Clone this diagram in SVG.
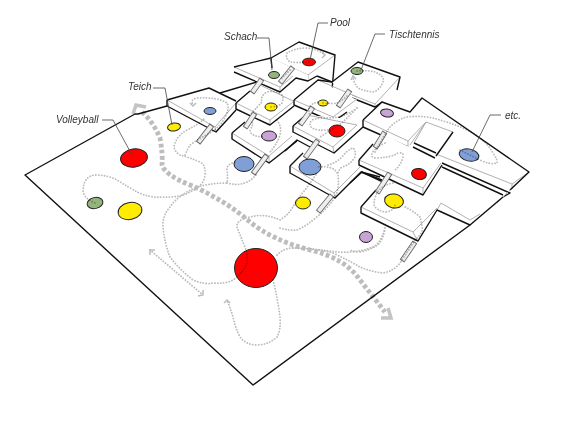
<svg xmlns="http://www.w3.org/2000/svg" width="568" height="426" viewBox="0 0 568 426">
<style>
.t{fill:#fff;stroke:none}
.b{fill:none;stroke:#111;stroke-width:1.4;stroke-linejoin:round}
.g{fill:none;stroke:#a8a8a8;stroke-width:.9}
.bo{stroke:#666;stroke-width:5.500;fill:none}
.bi{stroke:#eee;stroke-width:3.800;fill:none}
.n{stroke:#222;stroke-width:1}
.red{fill:#f00}.yel{fill:#ffec00}.blu{fill:#7f9fd6}.pur{fill:#c9a3d6}.grn{fill:#93b57c}
.d{fill:none;stroke:#bbb;stroke-width:1.800;stroke-dasharray:.1 2.800;stroke-linecap:round}
.m{fill:none;stroke:#bdbdbd;stroke-width:4.800;stroke-dasharray:3.800 2.400}
.h{fill:none;stroke:#bbb;stroke-width:1.500}
.H{fill:none;stroke:#c4c4c4;stroke-width:3.500}
.l{fill:none;stroke:#444;stroke-width:.8}
text{font-family:"Liberation Sans",Arial,sans-serif;font-style:italic;font-size:10px;fill:#333}
</style>
<rect width="568" height="426" fill="#fff"/>
<g id="ground">
<path class="b" d="M167,106L138,114L135,114L25,175L253,385L470,225"/>
</g>
<g id="platforms">
<g id="pf-pool">
<polygon class="t" points="271,58 299,42 335,55 317,76 308,80 287,70"/>
<path class="g" d="M272,59L308,75L335,55M308,75L308,80"/>
<path class="b" d="M271,58L299,42L335,55L332,90M317,76L332,82"/>
</g>
<g id="pf-schach">
<polygon class="t" points="234,67 271,58 308,75 308,80 292,78 280,92 234,72"/>
<path class="g" d="M234,67L280,87L293,76M280,87L280,92"/>
<path class="b" d="M234,67L271,58L272,68M234,72L280,92L296,78L308,81L317,76"/>
</g>
<g id="pf-teich">
<polygon class="t" points="167,100 209,88 236,101 236,110 216,132 167,106"/>
<path class="g" d="M167,100L215,127L236,103M215,127L216,132"/>
<path class="b" d="M167,100L209,88L236,101M220,93L257,82M167,100L167,106L216,132L236,110"/>
</g>
<g id="pf-yellow1">
<polygon class="t" points="236,103 258,84 293,100 293,106 270,125 236,109"/>
<path class="g" d="M236,103L270,120L293,102M270,120L270,125M258,84L293,101"/>
<path class="b" d="M236,103L236,109L270,125L294,106M236,103L250,91"/>
</g>
<g id="pf-purple1">
<polygon class="t" points="232,133 247,121 297,141 269,163 232,139"/>
<path class="g" d="M232,133L269,156L292,136M269,156L269,163"/>
<path class="b" d="M232,133L232,139L269,163L297,141M232,133L245,122"/>
</g>
<g id="pf-tisch">
<polygon class="t" points="332,82 358,62 400,77 375,107 352,98"/>
<path class="g" d="M400,77L375,104L352,95M375,104L375,107"/>
<path class="b" d="M332,82L358,62L400,77L397,90M352,98L375,107L382,102"/>
</g>
<g id="pf-yellow3">
<polygon class="t" points="294,100 318,80 357,100 350,108 333,122 294,106"/>
<path class="g" d="M294,100L333,117L357,99M333,117L333,122M318,80L357,97"/>
<path class="b" d="M294,100L318,80L332,82M294,100L294,105L333,122L347,112"/>
</g>
<g id="pf-red1">
<polygon class="t" points="293,126 307,115 363,120 357,135 334,153 293,132"/>
<path class="g" d="M293,126L333,147L357,125M333,147L334,153M307,115L357,125"/>
<path class="b" d="M293,126L293,132L334,153L363,127M293,126L307,114"/>
</g>
<g id="pf-big">
<polygon class="t" points="382,102 410,112 422,98 529,172 512,188 510,193 442,163 436,155 408,147 363,127 363,120"/>
<path class="g" d="M363,120L408,141L426,122L453,132M426,122L414,143M426,122L410,145M408,141L408,147M529,172L512,184M436,154L512,184L512,189"/>
<path class="b" d="M363,120L382,102L410,112L422,98L529,172L510,190M453,132L436,156M414,143L436,153M413,147L435,158M363,120L363,127L408,147"/>
</g>
<g id="pf-wing">
<path class="b" d="M442,163L510,193L503,197M442,167L503,195"/>
<path class="g" d="M510,190L497,203"/>
</g>
<g id="pf-blue2">
<polygon class="t" points="290,166 300,157 360,167 361,172 335,198 290,173"/>
<path class="g" d="M290,166L334,193L360,167M334,193L335,198"/>
<path class="b" d="M285,151L297,140L310,147M290,166L303,153M290,166L290,173L335,198L361,172L382,180"/>
</g>
<g id="pf-red2">
<polygon class="t" points="359,160 385,135 442,163 423,195 359,165"/>
<path class="g" d="M359,160L423,188L441,163M423,188L423,195"/>
<path class="b" d="M359,160L373,144M359,160L359,165L423,195L442,165M361,172L380,177"/>
</g>
<g id="pf-yellow2">
<polygon class="t" points="361,207 375,190 441,203 437,210 417,242 361,213"/>
<path class="g" d="M361,207L413,232L437,208M441,203L470,220L480,214M413,232L417,240M437,210L441,203"/>
<path class="b" d="M361,207L361,213L418,241L437,210L470,225L503,197M361,207L376,190M350,183L362,172L383,182"/>
</g>
</g>
<g id="bridges">
<path class="bo" d="M198,143L212,125M252,93L262,79M280,83L293,67M245,128L255,113M253,174L267,155M300,125L313,107M305,158L318,140M338,107L350,90M318,212L332,195M377,193L390,173M402,261L415,242M375,148L385,132"/>
<path class="bi" d="M198.600,142.200L211.400,125.800M252.600,92.200L261.400,79.800M280.600,82.300L292.400,67.700M245.600,127.200L254.400,113.800M253.600,173.200L266.400,155.800M300.600,124.200L312.400,107.800M305.600,157.200L317.400,140.800M338.600,106.200L349.400,90.800M318.600,211.300L331.400,195.700M377.600,192.200L389.400,173.800M402.600,260.200L414.400,242.800M375.600,147.200L384.400,132.800"/>
</g>
<g id="n-volleyball"><ellipse class="n red" cx="134" cy="158" rx="13.500" ry="9" transform="rotate(-8 134 158)"/></g>
<g id="n-yellow-a"><ellipse class="n yel" cx="130" cy="211" rx="12" ry="8.500" transform="rotate(-12 130 211)"/></g>
<g id="n-green-a"><ellipse class="n grn" cx="95" cy="203" rx="8" ry="5.500" transform="rotate(-12 95 203)"/></g>
<g id="n-teich"><ellipse class="n yel" cx="174" cy="127" rx="6.500" ry="4" transform="rotate(-8 174 127)"/></g>
<g id="n-blue-a"><ellipse class="n blu" cx="210" cy="111" rx="6" ry="3.500"/></g>
<g id="n-schach"><ellipse class="n grn" cx="274" cy="75" rx="5.500" ry="3.500"/></g>
<g id="n-pool"><ellipse class="n red" cx="309" cy="62" rx="6.500" ry="3.800"/></g>
<g id="n-yellow-b"><ellipse class="n yel" cx="271" cy="107" rx="6" ry="4"/></g>
<g id="n-purple-a"><ellipse class="n pur" cx="269" cy="136" rx="7.500" ry="5"/></g>
<g id="n-blue-b"><ellipse class="n blu" cx="244" cy="164" rx="10" ry="7.500"/></g>
<g id="n-yellow-c"><ellipse class="n yel" cx="323" cy="103" rx="5" ry="3"/></g>
<g id="n-red-a"><ellipse class="n red" cx="337" cy="131" rx="8" ry="6"/></g>
<g id="n-blue-c"><ellipse class="n blu" cx="310" cy="167" rx="11" ry="8"/></g>
<g id="n-yellow-d"><ellipse class="n yel" cx="303" cy="203" rx="7.500" ry="6"/></g>
<g id="n-purple-b"><ellipse class="n pur" cx="366" cy="237" rx="6.500" ry="5.500"/></g>
<g id="n-yellow-e"><ellipse class="n yel" cx="394" cy="201" rx="9.500" ry="7" transform="rotate(10 394 201)"/></g>
<g id="n-red-b"><ellipse class="n red" cx="419" cy="174" rx="7.500" ry="5.500" transform="rotate(10 419 174)"/></g>
<g id="n-etc"><ellipse class="n blu" cx="469" cy="155" rx="10" ry="6" transform="rotate(12 469 155)"/></g>
<g id="n-purple-c"><ellipse class="n pur" cx="387" cy="113" rx="6.500" ry="4" transform="rotate(8 387 113)"/></g>
<g id="n-tisch"><ellipse class="n grn" cx="357" cy="71" rx="6" ry="3.500"/></g>
<g id="n-big"><ellipse class="n red" cx="256" cy="268" rx="21.500" ry="19.500"/></g>
<g id="connectors" style="mix-blend-mode:multiply">
<path class="m" d="M142,112Q154,123 160,138Q163,155 162,165Q165,175 190,185Q225,200 250,222Q272,240 310,250Q345,258 360,280L385,312"/>
<path class="H" d="M133,114L136,105L146,107"/>
<path class="H" d="M381,318L391,318L388,308"/>
<path class="d" d="M95,203Q83,198 83,190Q84,176 95,175Q108,175 117,180Q130,188 137,192Q150,198 160,197Q180,198 190,192Q204,186 205,175Q206,165 200,162Q188,157 180,155Q172,150 175,143Q178,135 187,130Q198,125 205,118"/>
<path class="d" d="M185,155Q188,148 190,145Q200,138 210,133Q222,125 225,117Q230,108 227,103Q218,97 197,98Q190,99 193,105"/>
<path class="h" d="M190,103L193,106L196,103"/>
<path class="d" d="M235,162Q226,165 227,170Q228,178 227,183Q212,183 197,187Q178,195 170,207Q162,216 163,227Q165,245 170,257Q180,270 193,280Q205,285 213,283Q226,284 233,280Q244,272 247,263Q248,255 245,247Q240,235 237,227Q236,220 250,217Q265,213 280,220Q288,215 293,207Q298,198 305,190Q311,182 317,173"/>
<path class="d" d="M227,183Q245,188 256,175M280,228Q290,231 297,230Q306,226 313,220Q326,210 333,200Q340,190 338,175Q335,165 317,167M328,165Q336,163 342,157Q347,150 353,148Q356,150 355,157Q350,165 342,167Q338,170 338,175"/>
<path class="d" d="M277,255Q284,248 293,248Q315,249 337,252Q358,253 370,248Q380,246 385,228"/>
<path class="d" d="M293,248Q315,248 333,253Q348,260 360,267Q372,272 383,273Q394,271 400,263L415,240Q424,232 422,227Q421,220 420,217Q412,210 405,207"/>
<path class="d" d="M273,280Q278,300 280,317Q281,330 277,337Q268,345 257,345Q246,345 240,337Q235,327 233,317Q230,307 227,300"/>
<path class="d" d="M150,250L203,295"/>
<path class="h" d="M150,255L150,250L155,250M198,296L203,295L203,290M224,303L227,300L230,303"/>
<path class="d" d="M309,62Q297,63 290,62Q285,58 287,53Q295,48 307,48Q318,49 325,55"/>
<path class="h" d="M322,58L325,55L322,52"/>
<path class="d" d="M290,70L280,80M271,107Q280,106 282,103Q284,98 282,95Q275,90 267,92Q260,96 262,102Q258,106 250,115"/>
<path class="d" d="M262,137Q250,136 250,130Q254,124 252,122M277,120Q282,127 280,135Q276,146 270,152"/>
<path class="d" d="M357,71Q368,70 375,72Q385,76 383,82Q380,90 373,92Q364,91 358,88Q354,83 353,78"/>
<path class="h" d="M351,80L353,76L356,79"/>
<path class="d" d="M375,152Q382,138 390,127Q398,119 407,117Q425,115 440,120Q458,125 473,133Q487,142 493,153Q498,160 497,163Q490,165 480,160Q470,155 460,150"/>
<path class="d" d="M385,143Q376,147 372,153Q371,158 375,158Q390,158 398,153Q404,152 403,157Q401,165 395,170"/>
<path class="d" d="M323,103Q333,104 337,103Q343,100 348,95M318,102Q305,105 310,115M328,130Q318,131 312,128Q308,124 312,120Q320,117 328,118Q345,118 358,107L342,123L320,137"/>
<path class="d" d="M393,183Q378,186 375,198Q373,204 375,207Q380,212 387,212Q394,210 395,205"/>
<path class="d" d="M385,228Q384,238 378,245Q370,250 360,252Q354,252 350,250"/>
</g>
<g id="labels">
<text x="56" y="123">Volleyball</text>
<path class="l" d="M102,120L113,120L132,155"/>
<text x="128" y="90">Teich</text>
<path class="l" d="M153,88L165,88L172,125"/>
<text x="224" y="40">Schach</text>
<path class="l" d="M257,38L269,38L272,70"/>
<text x="330" y="26">Pool</text>
<path class="l" d="M328,23L318,23L310,60"/>
<text x="389" y="38">Tischtennis</text>
<path class="l" d="M385,34L375,34L361,70"/>
<text x="505" y="119">etc.</text>
<path class="l" d="M501,115L490,115L472,152"/>
</g>
</svg>
